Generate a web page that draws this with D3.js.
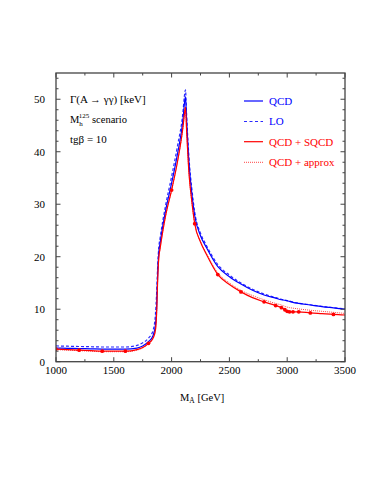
<!DOCTYPE html>
<html><head><meta charset="utf-8">
<script src="https://cdn.jsdelivr.net/npm/d3@7"></script>
<style>html,body{margin:0;padding:0;background:#fff}svg{display:block}text{font-family:"Liberation Serif","Times New Roman",serif}</style>
</head><body>
<svg id="c" width="383" height="495"></svg>
<script>
const mA =     [1000,1100,1200,1300,1400,1500,1600,1700,1750,1800,1840,1860,1870,1880,1890,1900,1925,1950,2000,2050,2100,2110,2120,2130,2150,2175,2200,2250,2300,2400,2500,2600,2700,2800,2900,2950,2980,3000,3020,3050,3100,3200,3300,3400,3500];
const qcd =    [2.6,2.55,2.5,2.45,2.4,2.4,2.4,2.6,3.0,3.8,5.0,7.0,10,17,21,22.5,26,29,34,39.5,46.5,49,50.5,46,38,32,27.8,24,21.8,18.1,16.2,14.8,13.6,12.7,12.1,11.8,11.7,11.6,11.5,11.3,11.1,10.8,10.5,10.25,10.0];
const lo =     [3.0,2.95,2.9,2.85,2.8,2.8,2.8,3.1,3.6,4.5,6.0,9.0,13,18.5,22,23.5,27,30,35.3,41,48,50.5,51.8,47,39,33,28.5,24.5,22.2,18.5,16.5,15.0,13.8,12.9,12.2,11.9,11.75,11.65,11.55,11.35,11.15,10.85,10.55,10.3,10.05];
const sqcd =   [2.4,2.3,2.2,2.1,2.0,2.0,2.0,2.3,2.7,3.5,4.5,6.0,9,16,20,21.5,25,28,32.7,38,45,47,48.5,44,36,30.5,26.3,22.8,20.5,16.6,14.7,13.3,12.2,11.4,10.7,10.3,9.9,9.6,9.5,9.5,9.5,9.3,9.15,9.0,8.9];
const approx = [2.3,2.2,2.1,2.0,1.9,1.9,1.9,2.2,2.6,3.4,4.4,5.9,9,16,20,21.5,25,28,32.7,38,45,47,48.5,44,36,30.5,26.4,22.9,20.7,16.9,15.0,13.6,12.6,11.8,11.1,10.8,10.55,10.4,10.3,10.2,10.05,9.8,9.6,9.4,9.2];
const markerM = [1000,1200,1400,1600,1800,2000,2200,2400,2600,2800,2900,2950,2980,3000,3020,3050,3100,3200,3400];
const xTicks = [1000,1500,2000,2500,3000,3500];
const yTicks = [0,10,20,30,40,50];
const legendLabels = ["QCD","LO","QCD + SQCD","QCD + approx"];

const svg = d3.select("#c");
const L=56, R=345, T=73, B=361.7;
const x = d3.scaleLinear().domain([1000,3500]).range([L,R]);
const y = d3.scaleLinear().domain([0,55]).range([B,T]);

svg.append("clipPath").attr("id","clip").append("rect").attr("x",L).attr("y",T).attr("width",R-L).attr("height",B-T);
const g = svg.append("g").attr("clip-path","url(#clip)");

const line = arr => d3.line().curve(d3.curveMonotoneX).x((d,i)=>x(mA[i])).y(d=>y(d))(arr);
const series = [
  {v:approx, c:"#ff3030", w:0.9, dash:"1,1"},
  {v:lo, c:"#2a2aff", w:1.2, dash:"3,2"},
  {v:qcd, c:"#0000ff", w:1.2, dash:null},
  {v:sqcd, c:"#ff0000", w:1.2, dash:null}
];
series.forEach(s=>{
  g.append("path").attr("d",line(s.v)).attr("fill","none").attr("stroke",s.c)
   .attr("stroke-width",s.w).attr("stroke-dasharray",s.dash);
});
markerM.forEach(m=>{
  const i = mA.indexOf(m);
  g.append("circle").attr("cx",x(m)).attr("cy",y(sqcd[i])).attr("r",1.9).attr("fill","#ff0000");
});

svg.append("rect").attr("x",L).attr("y",T).attr("width",R-L).attr("height",B-T).attr("fill","none").attr("stroke","#444").attr("stroke-width",1.3);

const tk = svg.append("g").attr("stroke","#444").attr("stroke-width",1);
d3.range(1000,3501,250).forEach(v=>{
  const len = (v%500===0)?4.5:2.5;
  tk.append("line").attr("x1",x(v)).attr("x2",x(v)).attr("y1",B).attr("y2",B-len);
  tk.append("line").attr("x1",x(v)).attr("x2",x(v)).attr("y1",T).attr("y2",T+len);
});
d3.range(0,55,2).forEach(v=>{
  const len = (v%10===0)?4.5:2.5;
  tk.append("line").attr("y1",y(v)).attr("y2",y(v)).attr("x1",L).attr("x2",L+len);
  tk.append("line").attr("y1",y(v)).attr("y2",y(v)).attr("x1",R).attr("x2",R-len);
});
xTicks.forEach(v=>{
  svg.append("text").attr("x",x(v)).attr("y",373.5).attr("text-anchor","middle").attr("font-size",11).text(v);
});
yTicks.forEach(v=>{
  svg.append("text").attr("x",45).attr("y",y(v)+3.8).attr("text-anchor","end").attr("font-size",11).text(v);
});

const xt = svg.append("text").attr("x",180).attr("y",401).attr("font-size",10.5);
xt.append("tspan").text("M");
xt.append("tspan").attr("font-size",7.5).attr("dy",2).text("A");
xt.append("tspan").attr("dy",-2).text(" [GeV]");

svg.append("text").attr("x",70).attr("y",103).attr("font-size",11).text("Γ(A → γγ) [keV]");
const t2 = svg.append("text").attr("x",70).attr("y",123).attr("font-size",10.5);
t2.append("tspan").text("M");
t2.append("tspan").attr("font-size",7).attr("dy",3).text("h");
t2.append("tspan").attr("font-size",7).attr("dx",-4).attr("dy",-8).text("125");
t2.append("tspan").attr("dy",5).text(" scenario");
svg.append("text").attr("x",70).attr("y",143).attr("font-size",11).text("tgβ = 10");

const ly = [101,121.5,141.7,162.3];
const lcol = ["#0000ff","#2a2aff","#ff0000","#ff3030"];
const ldash = [null,"3,2.5",null,"1,1"];
const lw = [1.2,1.2,1.2,0.9];
legendLabels.forEach((lab,i)=>{
  svg.append("line").attr("x1",244).attr("x2",263).attr("y1",ly[i]).attr("y2",ly[i]).attr("stroke",lcol[i]).attr("stroke-width",lw[i]).attr("stroke-dasharray",ldash[i]);
  svg.append("text").attr("x",269).attr("y",ly[i]+3.8).attr("font-size",11).attr("fill",i<2?"#0000ff":"#ff0000").text(lab);
});
</script>
</body></html>
